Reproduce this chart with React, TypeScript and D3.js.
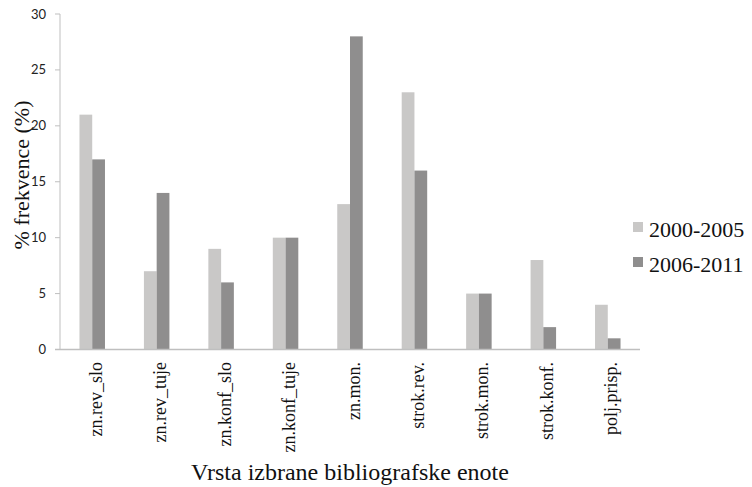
import React from "react";
import * as d3 from "d3";

const categories = [
  "zn.rev_slo",
  "zn.rev_tuje",
  "zn.konf_slo",
  "zn.konf_tuje",
  "zn.mon.",
  "strok.rev.",
  "strok.mon.",
  "strok.konf.",
  "polj.prisp.",
];
const series2000 = [21, 7, 9, 10, 13, 23, 5, 8, 4];
const series2006 = [17, 14, 6, 10, 28, 16, 5, 2, 1];
const seriesNames = ["2000-2005", "2006-2011"];
const yTicks = [0, 5, 10, 15, 20, 25, 30];

const colors = ["#c9c8c7", "#8f8e8e"];

export default function App() {
  const W = 752;
  const H = 487;
  const left = 60;
  const right = 640;
  const top = 14;
  const bottom = 349.5;

  const x = d3.scaleBand<string>().domain(categories).range([left, right]).paddingInner(0).paddingOuter(0);
  const inner = d3.scaleBand<string>().domain(seriesNames).range([0, 25.5]);
  const y = d3.scaleLinear().domain([0, 30]).range([bottom, top]);
  const groupOffset = (x.bandwidth() - 25.5) / 2;
  const data = [series2000, series2006];
  const serifStyle = { fontFamily: '"Liberation Serif", Times, "Times New Roman", serif' };
  const sansStyle = { fontFamily: 'Lato, "Open Sans", sans-serif' };

  return (
    <svg width={W} height={H} style={{ position: "absolute", left: 0, top: 0, background: "#fff" }}>
      {/* bars */}
      {categories.map((c, i) => (
        <g key={c}>
          {seriesNames.map((s, k) => {
            const v = data[k][i];
            const bx = (x(c) as number) + groupOffset + (inner(s) as number);
            return (
              <rect
                key={s}
                x={bx}
                y={y(v)}
                width={inner.bandwidth()}
                height={bottom - y(v)}
                fill={colors[k]}
              />
            );
          })}
        </g>
      ))}
      {/* y axis */}
      <line x1={left} x2={left} y1={top} y2={bottom} stroke="#bfbfbf" strokeWidth={1} />
      {yTicks.map((t) => (
        <g key={t}>
          <line x1={left - 5} x2={left} y1={y(t)} y2={y(t)} stroke="#bfbfbf" strokeWidth={1} />
          <text
            x={46}
            y={y(t)}
            dy="0.35em"
            textAnchor="end"
            style={sansStyle}
            fontSize={13}
            fill="#222"
          >
            {t}
          </text>
        </g>
      ))}
      {/* x axis */}
      <line x1={left - 5} x2={right} y1={bottom} y2={bottom} stroke="#bfbfbf" strokeWidth={1.5} />
      {categories.map((c) => {
        const cx = (x(c) as number) + x.bandwidth() / 2;
        return (
          <text
            key={c}
            transform={`translate(${cx + 9.5},362) rotate(-90)`}
            textAnchor="end"
            style={serifStyle}
            fontSize={18}
            fill="#111"
          >
            {c}
          </text>
        );
      })}
      {/* axis titles */}
      <text
        transform={`translate(28.5,175) rotate(-90)`}
        textAnchor="middle"
        style={serifStyle}
        fontSize={22}
        fill="#111"
      >
        % frekvence (%)
      </text>
      <text x={350} y={480} textAnchor="middle" style={serifStyle} fontSize={24} fill="#111">
        Vrsta izbrane bibliografske enote
      </text>
      {/* legend */}
      {seriesNames.map((s, k) => (
        <g key={s}>
          <rect x={633} y={222 + k * 35} width={10} height={10} fill={colors[k]} />
          <text x={649} y={237 + k * 35} style={serifStyle} fontSize={22} fill="#111">
            {s}
          </text>
        </g>
      ))}
    </svg>
  );
}
